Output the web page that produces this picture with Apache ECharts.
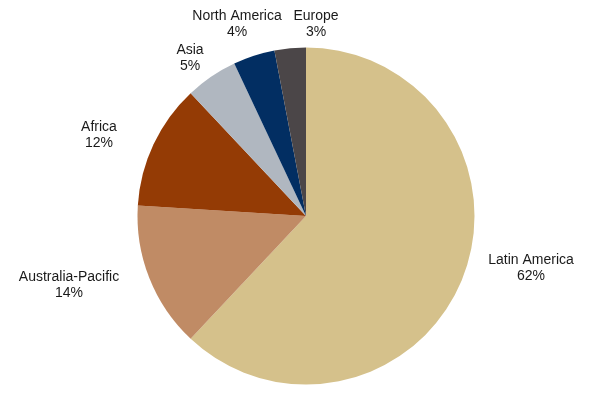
<!DOCTYPE html>
<html>
<head>
<meta charset="utf-8">
<script src="https://cdn.jsdelivr.net/npm/echarts@6/dist/echarts.min.js"></script>
<style>
html,body{margin:0;padding:0;background:#fff;}
#chart{width:600px;height:399px;}
</style>
</head>
<body>
<div id="chart"></div>
<script>
// regions, clockwise from 12 o'clock
var regions = ['Latin America', 'Australia-Pacific', 'Africa', 'Asia', 'North America', 'Europe'];
var shares = [62, 14, 12, 5, 4, 3];
var colorList = ['#D5C18B', '#C08B65', '#943B05', '#B0B7C0', '#022E62', '#4B4648'];

// where the excel-style labels sit (text centre)
var labelAt = [[531, 268], [69, 285], [99, 135], [190, 58], [237, 24], [316, 24]];

var myChart = echarts.init(document.getElementById('chart'));

var option = {
	animation: false,
	color: colorList,
	series: [
		{
			type: 'pie',
			center: [306, 216],
			radius: 168.5,
			startAngle: 90,
			clockwise: true,
			data: regions.map(function (name, i) {
				return { name: name, value: shares[i] };
			}),
			itemStyle: {
				borderWidth: 0
			},
			label: {
				show: true,
				position: 'outside',
				formatter: '{b}\n{d}%',
				fontFamily: 'Liberation Sans, Arial, sans-serif',
				fontSize: 14,
				lineHeight: 16,
				color: '#1a1a1a',
				overflow: 'none'
			},
			labelLine: {
				show: false
			},
			labelLayout: function (params) {
				var p = labelAt[params.dataIndex];
				return {
					x: p[0],
					y: p[1],
					align: 'center',
					verticalAlign: 'middle'
				};
			},
			emphasis: { disabled: true }
		}
	]
};

myChart.setOption(option, true);
</script>
</body>
</html>
